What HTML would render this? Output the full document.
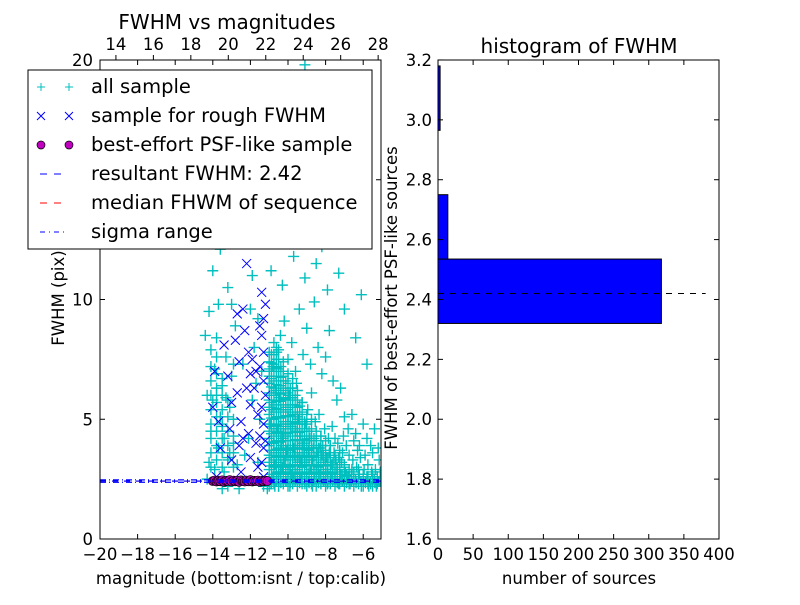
<!DOCTYPE html>
<html><head><meta charset="utf-8"><style>
body{margin:0;background:#fff;}
svg text{font-family:"DejaVu Sans","Liberation Sans",sans-serif;font-size:16.5px;fill:#000;}
</style></head><body>
<svg id="c" width="800" height="600" viewBox="0 0 800 600" xmlns="http://www.w3.org/2000/svg">
<rect width="800" height="600" fill="#fff"/>
</svg>
<script>
const allSample = "-10.9,2.3 -10.8,2.6 -10.7,3.1 -10.6,2.5 -10.5,3.6 -10.4,2.8 -10.3,4.2 -10.2,3.3 -10.1,2.4 -10.0,5.1 -9.9,3.0 -9.8,2.7 -9.7,3.8 -9.6,4.5 -9.5,2.9 -9.4,3.4 -9.3,2.5 -9.2,4.0 -9.1,3.2 -9.0,2.6 -8.9,3.7 -8.8,2.9 -8.7,3.3 -8.6,2.5 -8.5,4.1 -8.4,3.0 -8.3,2.7 -8.2,3.5 -8.1,2.4 -8.0,3.1 -7.9,2.8 -7.8,3.6 -7.7,2.6 -7.6,3.2 -7.5,2.5 -7.4,2.9 -7.3,3.4 -7.2,2.7 -7.1,2.4 -7.0,3.0 -6.8,2.6 -6.6,2.9 -6.4,2.5 -6.2,2.7 -6.0,2.4 -5.8,2.6 -5.6,2.3 -5.4,2.5 -5.2,2.4 -10.95,4.8 -10.85,5.5 -10.75,4.0 -10.65,6.2 -10.55,4.6 -10.45,5.9 -10.35,3.9 -10.25,6.8 -10.15,4.4 -10.05,3.7 -9.95,6.0 -9.85,4.7 -9.75,5.3 -9.65,3.5 -9.55,6.5 -9.45,5.0 -9.35,4.3 -9.25,5.7 -9.15,3.6 -9.05,4.8 -8.95,5.4 -8.85,4.2 -8.75,6.1 -8.65,3.8 -8.55,4.9 -8.45,3.6 -8.35,5.2 -8.25,4.3 -8.15,3.9 -8.05,4.6 -7.95,3.4 -7.85,4.2 -7.75,3.9 -7.65,4.7 -7.55,3.6 -7.45,3.3 -7.35,4.0 -7.25,3.7 -7.15,3.2 -7.05,4.3 -6.95,2.8 -6.75,3.5 -6.55,3.3 -6.35,3.0 -6.15,3.4 -5.95,2.9 -5.75,3.1 -5.55,2.8 -5.35,2.9 -5.15,3.3 -10.9,3.5 -10.7,2.2 -10.5,2.2 -10.3,3.0 -10.1,3.5 -9.9,2.2 -9.7,2.5 -9.5,3.9 -9.3,3.2 -9.1,2.3 -8.9,2.4 -8.7,2.2 -8.5,2.9 -8.3,3.8 -8.1,3.3 -7.9,2.3 -7.7,3.1 -7.5,4.2 -7.3,2.3 -7.1,3.6 -6.9,3.9 -6.7,2.3 -6.5,4.1 -6.3,3.7 -6.1,2.2 -5.9,3.5 -5.7,2.2 -5.5,3.6 -5.3,2.2 -5.1,2.8 -10.8,7.2 -10.6,7.8 -10.4,8.5 -10.2,9.1 -10.0,7.5 -9.8,8.2 -9.6,7.0 -9.4,9.6 -9.2,7.7 -9.0,8.8 -8.8,7.3 -8.6,9.9 -8.4,8.0 -8.2,6.9 -8.0,7.6 -7.8,8.7 -7.6,6.6 -7.4,5.8 -7.2,6.3 -7.0,5.1 -6.8,4.6 -6.6,5.2 -6.4,4.4 -6.2,3.9 -6.0,4.8 -5.8,4.2 -5.6,3.9 -5.4,4.6 -5.2,3.8 -10.9,11.2 -10.6,12.5 -10.3,10.6 -10.0,13.4 -9.7,11.8 -9.4,12.9 -9.1,10.9 -8.8,13.8 -8.5,11.5 -8.2,12.2 -7.9,10.4 -7.6,13.0 -7.3,11.1 -7.0,9.6 -6.7,12.7 -6.4,8.4 -6.1,10.2 -5.8,7.3 -10.7,14.5 -9.9,15.2 -9.2,14.8 -8.4,15.5 -7.7,14.1 -11.0,16.0 -10.2,17.5 -9.5,16.8 -8.7,18.2 -7.5,17.0 -9.1,19.8 -10.5,19.0 -8.0,19.2 -11.5,13.5 -11.6,9.2 -11.8,8.0 -11.7,6.5 -11.5,5.0 -11.9,11.0 -12.3,3.5 -12.1,4.2 -11.9,5.8 -12.4,7.3 -12.0,9.6 -11.6,3.2 -11.4,7.0 -12.2,12.8 -11.3,2.2 -11.1,2.1 -12.6,2.1 -13.2,2.2 -14.3,2.5 -13.5,2.1 -14.2,3.2 -14.1,4.5 -14.0,5.8 -13.9,7.1 -13.8,8.4 -14.2,9.5 -13.7,3.8 -13.6,5.1 -13.5,6.4 -13.4,4.2 -13.3,7.6 -13.2,3.4 -13.1,5.5 -13.0,6.8 -12.9,4.0 -12.8,8.9 -12.7,3.1 -14.3,6.0 -14.1,7.9 -13.9,2.9 -13.7,9.8 -13.5,4.7 -13.3,5.9 -13.1,3.6 -12.9,7.3 -14.0,11.2 -13.6,12.1 -13.2,10.5 -12.8,12.6 -13.0,9.8 -14.4,8.5 -13.8,6.0 -13.4,2.8";
// dense core of the cloud, by magnitude column: "mag:fwhm,fwhm,..."
const denseColumns = "-11.0:2.2,2.5,2.9,3.2,3.5,3.9,4.2,4.5,4.8,5.2,5.5,5.8,6.1,6.5,6.8,7.1,7.4,7.8 -10.75:2.3,2.6,3.0,3.3,3.6,4.0,4.3,4.6,5.0,5.3,5.6,6.0,6.3,6.6,7.0,7.3,7.7,8.2 -10.5:2.2,2.5,2.8,3.2,3.5,3.8,4.1,4.5,4.8,5.1,5.4,5.8,6.1,6.4,6.8,7.1,7.5,7.9 -10.25:2.3,2.6,2.9,3.3,3.6,3.9,4.3,4.6,4.9,5.3,5.6,5.9,6.3,6.6,7.0,7.4 -10.0:2.2,2.5,2.8,3.1,3.5,3.8,4.1,4.4,4.8,5.1,5.4,5.8,6.1,6.5,6.9 -9.75:2.3,2.6,2.9,3.3,3.6,3.9,4.3,4.6,4.9,5.2,5.6,5.9,6.3,6.7 -9.5:2.2,2.5,2.8,3.2,3.5,3.8,4.1,4.5,4.8,5.1,5.5,5.8,6.2 -9.25:2.3,2.6,3.0,3.3,3.6,3.9,4.3,4.6,4.9,5.3,5.7 -9.0:2.2,2.5,2.8,3.1,3.5,3.8,4.1,4.5,4.8,5.2 -8.75:2.3,2.6,2.9,3.3,3.6,3.9,4.3,4.6,5.0 -8.5:2.2,2.5,2.8,3.1,3.5,3.8,4.1,4.5 -8.25:2.3,2.6,2.9,3.2,3.6,3.9,4.3 -8.0:2.2,2.5,2.8,3.1,3.4,3.7,4.1 -7.75:2.3,2.6,2.9,3.2,3.5,3.9 -7.5:2.2,2.5,2.8,3.1,3.5 -7.25:2.3,2.6,2.9,3.3 -7.0:2.2,2.5,2.8,3.1 -6.75:2.3,2.6,2.9 -6.5:2.2,2.5,2.8 -6.25:2.3,2.6,2.9 -6.0:2.2,2.5,2.7 -5.75:2.3,2.6 -5.5:2.2,2.5,2.7 -5.25:2.3,2.6 -14.1:3.0,3.6,4.2,4.8,5.4,6.0,6.6,7.2 -13.8:3.3,3.9,4.5,5.1,5.7,6.3,6.9,7.6 -13.5:3.0,3.6,4.2,4.8,5.4,6.0,6.7 -13.2:3.3,3.9,4.5,5.1,5.8 -12.9:3.0,3.6,4.3,5.0";
const denseColumns2 = "-10.88:2.35,2.7,3.05,3.4,3.7,4.05,4.4,4.7,5.05,5.4,5.7,6.0,6.35,6.7,7.0,7.35,7.7 -10.62:2.4,2.75,3.1,3.45,3.75,4.1,4.45,4.75,5.1,5.45,5.75,6.1,6.45,6.8,7.15,7.5,8.0 -10.38:2.35,2.7,3.05,3.4,3.7,4.05,4.4,4.7,5.05,5.4,5.75,6.05,6.4,6.75,7.2 -10.12:2.4,2.75,3.1,3.45,3.75,4.1,4.45,4.8,5.15,5.5,5.85,6.2,6.6 -9.88:2.35,2.7,3.05,3.4,3.75,4.1,4.45,4.8,5.15,5.5,5.9,6.3 -9.62:2.4,2.75,3.1,3.45,3.8,4.15,4.5,4.85,5.2,5.6,6.0 -9.38:2.35,2.7,3.05,3.4,3.75,4.1,4.45,4.8,5.2,5.55 -9.12:2.4,2.75,3.1,3.45,3.8,4.15,4.5,4.9 -8.88:2.35,2.7,3.05,3.4,3.75,4.1,4.5 -8.62:2.4,2.75,3.1,3.45,3.8,4.2 -8.38:2.35,2.7,3.05,3.4,3.8 -8.12:2.4,2.75,3.1,3.5 -7.88:2.35,2.7,3.05,3.4 -7.62:2.4,2.75,3.1 -7.38:2.35,2.7,3.0 -7.12:2.4,2.7 -6.88:2.35,2.65 -6.62:2.4,2.7 -6.38:2.35 -6.12:2.4 -5.88:2.35 -5.62:2.4 -5.38:2.35 -5.12:2.4";
const roughSample = "-11.3,2.6 -11.4,3.2 -11.3,3.8 -11.5,4.3 -11.3,4.8 -11.4,5.5 -11.2,6.0 -11.3,6.6 -11.5,7.2 -11.3,7.8 -11.4,8.5 -11.3,9.2 -11.2,9.8 -11.4,10.3 -11.6,3.0 -11.7,4.0 -11.6,5.2 -11.8,6.3 -11.7,7.0 -11.9,7.5 -12.0,3.4 -12.1,4.4 -12.0,5.6 -12.2,6.3 -12.1,7.8 -12.3,8.7 -12.4,9.6 -12.5,2.8 -12.6,3.9 -12.5,4.9 -12.7,6.1 -12.6,7.4 -12.8,8.3 -12.7,9.4 -13.0,3.3 -13.1,4.6 -13.0,5.7 -13.2,6.8 -13.4,8.1 -13.6,3.8 -13.7,4.9 -13.9,7.0 -14.0,5.5 -13.8,2.6 -12.2,11.5 -12.9,12.4 -12.4,4.2 -12.0,6.9 -11.5,8.9 -11.2,4.1";
const psfSample = "-14.0,2.42 -13.9,2.44 -13.8,2.40 -13.7,2.43 -13.6,2.41 -13.5,2.45 -13.4,2.39 -13.3,2.43 -13.2,2.42 -13.1,2.46 -13.0,2.40 -12.9,2.44 -12.8,2.41 -12.7,2.43 -12.6,2.39 -12.5,2.45 -12.4,2.42 -12.3,2.40 -12.2,2.44 -12.1,2.41 -12.0,2.46 -11.9,2.40 -11.8,2.43 -11.7,2.42 -11.6,2.44 -11.5,2.39 -11.4,2.43 -11.3,2.41 -11.2,2.44 -11.1,2.42";
const resultFWHM = 2.42, medianFWHM = 2.42, sigmaLow = 2.37, sigmaHigh = 2.47;
const binEdges = [2.32, 2.535, 2.75, 2.965, 3.18];
const binCounts = [318, 14, 0, 3];
const histLineCount = 381;
const xTicksBottom = [-20,-18,-16,-14,-12,-10,-8,-6];
const xTicksTop = [14,16,18,20,22,24,26,28];
const yTicksLeft = [0,5,10,15,20];
const xTicksHist = [0,50,100,150,200,250,300,350,400];
const yTicksHist = [1.6,1.8,2.0,2.2,2.4,2.6,2.8,3.0,3.2];

const NS="http://www.w3.org/2000/svg", svg=document.getElementById('c');
function el(t,a,p){const e=document.createElementNS(NS,t);for(const k in a)e.setAttribute(k,a[k]);(p||svg).appendChild(e);return e;}
function parse(s){return s.trim().split(/\s+/).map(p=>p.split(',').map(Number));}
function parseCols(s){const out=[];s.trim().split(/\s+/).forEach(c=>{const [x,ys]=c.split(':');ys.split(',').forEach(y=>out.push([+x,+y]));});return out;}
const lx=v=>100+(v+20)*18.8, ltx=v=>100+(v-13.15)*18.73, ly=v=>539-v*23.95;
const hx=c=>438+c*0.7025, hy=f=>539-(f-1.6)*299.4;

const defs=el('defs',{});const cp=el('clipPath',{id:'lc'},defs);el('rect',{x:100,y:60,width:281,height:479},cp);
const gL=el('g',{'clip-path':'url(#lc)'});

parse(allSample).concat(parseCols(denseColumns)).concat(parseCols(denseColumns2)).forEach(([x,y])=>{const X=lx(x),Y=ly(y);
 const p=el('path',{d:`M${X-5.5},${Y}H${X+5.5}M${X},${Y-5.5}V${Y+5.5}`,stroke:'#00bfbf','stroke-width':1.4},gL);
 });
parse(roughSample).forEach(([x,y])=>{const X=lx(x),Y=ly(y);
 const p=el('path',{d:`M${X-4.5},${Y-4.5}L${X+4.5},${Y+4.5}M${X-4.5},${Y+4.5}L${X+4.5},${Y-4.5}`,stroke:'#0000ff','stroke-width':1},gL);
 });
parse(psfSample).forEach(([x,y])=>{const c=el('circle',{cx:lx(x),cy:ly(y),r:4.5,fill:'#bf00bf',stroke:'#000','stroke-width':0.7},gL);
 });
function hl(v,col,dash,name){const l=el('line',{x1:100,x2:381,y1:ly(v),y2:ly(v),stroke:col,'stroke-width':1.2,'stroke-dasharray':dash},gL);
 }
hl(medianFWHM,'#ff0000','6 6','median-line');
hl(resultFWHM,'#0000ff','6 6','result-line');
hl(sigmaLow,'#0000ff','6 3 1 3','sigma-low-line');
hl(sigmaHigh,'#0000ff','6 3 1 3','sigma-high-line');

function txt(x,y,s,anchor,name,extra){const t=el('text',Object.assign({x:x,y:y,'text-anchor':anchor||'middle'},extra||{}));t.textContent=s;
 return t;}
const fr=el('rect',{x:100,y:60,width:281,height:479,fill:'none',stroke:'#000','stroke-width':1});

xTicksBottom.forEach(v=>{const X=lx(v);el('line',{x1:X,x2:X,y1:539,y2:534,stroke:'#000'});el('line',{x1:X,x2:X,y1:60,y2:65,stroke:'#000'});
 txt(X,560,'\u2212'+Math.abs(v),'middle','x-tick-label');});
xTicksTop.forEach(v=>{const X=ltx(v);el('line',{x1:X,x2:X,y1:60,y2:55,stroke:'#000'});txt(X,50,String(v),'middle','top-x-tick-label');});
yTicksLeft.forEach(v=>{const Y=ly(v);el('line',{x1:100,x2:105,y1:Y,y2:Y,stroke:'#000'});el('line',{x1:381,x2:376,y1:Y,y2:Y,stroke:'#000'});
 txt(93,Y+6,String(v),'end','y-tick-label');});
txt(241,584,'magnitude (bottom:isnt / top:calib)','middle','x-axis-title');
txt(227,29,'FWHM vs magnitudes','middle','scatter-title',{style:'font-size:20px'});
txt(0,0,'FWHM (pix)','middle','y-axis-title',{transform:'translate(64,298) rotate(-90)'});

const gH=el('g',{});
binCounts.forEach((c,i)=>{if(c<=0)return;const y1=hy(binEdges[i+1]),y0=hy(binEdges[i]);
 const r=el('rect',{x:hx(0),y:y1,width:hx(c)-hx(0),height:y0-y1,fill:'#0000ff',stroke:'#000','stroke-width':1},gH);
 });
const dl=el('line',{x1:hx(0),x2:hx(histLineCount),y1:hy(resultFWHM),y2:hy(resultFWHM),stroke:'#000','stroke-width':1,'stroke-dasharray':'6 6'});

const fr2=el('rect',{x:438,y:60,width:281,height:479,fill:'none',stroke:'#000','stroke-width':1});

xTicksHist.forEach(v=>{const X=hx(v);el('line',{x1:X,x2:X,y1:539,y2:534,stroke:'#000'});el('line',{x1:X,x2:X,y1:60,y2:65,stroke:'#000'});
 txt(X,560,String(v),'middle','hist-x-tick-label');});
yTicksHist.forEach(v=>{const Y=hy(v);el('line',{x1:438,x2:443,y1:Y,y2:Y,stroke:'#000'});el('line',{x1:719,x2:714,y1:Y,y2:Y,stroke:'#000'});
 txt(432,Y+6,v.toFixed(1),'end','hist-y-tick-label');});
txt(579,584,'number of sources','middle','hist-x-axis-title');
txt(579,53,'histogram of FWHM','middle','hist-title',{style:'font-size:20px'});
txt(0,0,'FWHM of best-effort PSF-like sources','middle','hist-y-axis-title',{transform:'translate(397,298) rotate(-90)'});

const lg=el('g',{});
el('rect',{x:28,y:70,width:344,height:179,fill:'#fff',stroke:'#000','stroke-width':1},lg);
const items=['all sample','sample for rough FWHM','best-effort PSF-like sample','resultant FWHM: 2.42','median FHWM of sequence','sigma range'];
items.forEach((s,i)=>{const Y=87+i*29;const m1=41,m2=69;
 if(i==0){[m1,m2].forEach(X=>el('path',{d:`M${X-4},${Y}H${X+4}M${X},${Y-4}V${Y+4}`,stroke:'#00bfbf'},lg));}
 if(i==1){[m1,m2].forEach(X=>el('path',{d:`M${X-4},${Y-4}L${X+4},${Y+4}M${X-4},${Y+4}L${X+4},${Y-4}`,stroke:'#0000ff'},lg));}
 if(i==2){[m1,m2].forEach(X=>el('circle',{cx:X,cy:Y,r:4,fill:'#bf00bf',stroke:'#000','stroke-width':0.7},lg));}
 if(i==3)el('line',{x1:40,x2:68,y1:Y,y2:Y,stroke:'#0000ff','stroke-dasharray':'7 7'},lg);
 if(i==4)el('line',{x1:40,x2:68,y1:Y,y2:Y,stroke:'#ff0000','stroke-dasharray':'7 7'},lg);
 if(i==5)el('line',{x1:40,x2:68,y1:Y,y2:Y,stroke:'#0000ff','stroke-dasharray':'5 4 1 4'},lg);
 const t=el('text',{x:91,y:Y+6,style:'font-size:19.5px'},lg);t.textContent=s;
 });
</script>
</body></html>
